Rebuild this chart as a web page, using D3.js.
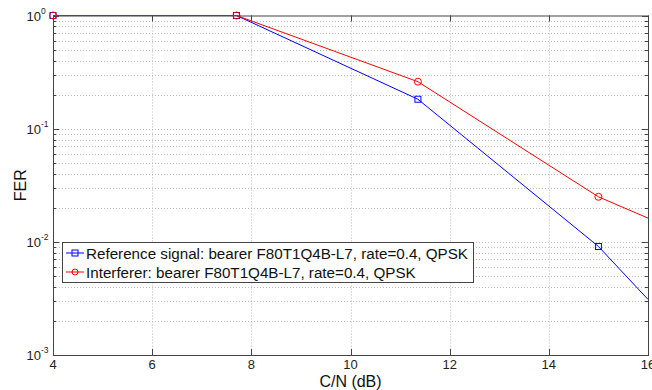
<!DOCTYPE html>
<html>
<head>
<meta charset="utf-8">
<script src="https://cdn.jsdelivr.net/npm/d3@7"></script>
<style>
  body { margin: 0; background: #fff; }
  text { font-family: "Liberation Sans", Arial, sans-serif; }
</style>
</head>
<body>
<div id="chart"></div>
<script>
let width = 652;
let height = 390;
let margin = ({top: 15.5, right: 4, bottom: 35, left: 53});

// C/N (dB)
let cn = [4, 7.7, 11.36, 15, 16];
let refFer = [1, 1, 0.182, 0.0091, 0.0031];
let intFer = [1, 1, 0.26, 0.025, 0.0162];
let xTicks = [4, 6, 8, 10, 12, 14, 16];
let yTicks = [-3, -2, -1, 0];
let labels = ["Reference signal: bearer F80T1Q4B-L7, rate=0.4, QPSK",
              "Interferer: bearer F80T1Q4B-L7, rate=0.4, QPSK"];

let x = d3.scaleLinear().domain([4, 16]).range([margin.left, width - margin.right]);
let y = d3.scaleLog().domain([1e-3, 1]).range([height - margin.bottom, margin.top]);

let svg = d3.select("#chart").append("svg")
    .attr("width", width).attr("height", height);

let x0 = x.range()[0], x1 = x.range()[1];
let y0 = y.range()[0], y1 = y.range()[1];

// minor + major y values
let yGrid = [];
for (let e = -3; e < 0; e++) {
    for (let m = 1; m < 10; m++) yGrid.push(m * Math.pow(10, e));
}
yGrid.push(1);

let grid = svg.append("g")
    .attr("stroke", "#bbb")
    .attr("stroke-width", 1)
    .attr("stroke-dasharray", "1,2");
grid.selectAll(".gx").data(xTicks.slice(1, -1)).join("line")
    .attr("x1", d => Math.round(x(d)) + 0.5).attr("x2", d => Math.round(x(d)) + 0.5)
    .attr("y1", y1).attr("y2", y0);
grid.selectAll(".gy").data(yGrid.slice(1, -1)).join("line")
    .attr("x1", x0).attr("x2", x1)
    .attr("y1", d => Math.round(y(d)) + 0.5).attr("y2", d => Math.round(y(d)) + 0.5);

// ticks on all four sides, pointing inward
let ticks = svg.append("g").attr("stroke", "#444").attr("stroke-width", 1);
xTicks.forEach(d => {
    let px = Math.round(x(d)) + 0.5;
    ticks.append("line").attr("x1", px).attr("x2", px).attr("y1", y0).attr("y2", y0 - 6);
    ticks.append("line").attr("x1", px).attr("x2", px).attr("y1", y1).attr("y2", y1 + 6);
});
yGrid.forEach(d => {
    let py = Math.round(y(d)) + 0.5;
    let major = Math.abs(Math.log10(d) - Math.round(Math.log10(d))) < 1e-9;
    let len = major ? 6 : 3;
    ticks.append("line").attr("x1", x0).attr("x2", x0 + len).attr("y1", py).attr("y2", py);
    ticks.append("line").attr("x1", x1).attr("x2", x1 - len).attr("y1", py).attr("y2", py);
});

// box
svg.append("rect")
    .attr("x", x0 + 0.5).attr("y", y1 + 0.5)
    .attr("width", x1 - x0).attr("height", y0 - y1)
    .attr("fill", "none").attr("stroke", "#444");

// tick labels
svg.append("g").selectAll("text").data(xTicks).join("text")
    .attr("x", d => x(d)).attr("y", y0 + 14)
    .attr("text-anchor", "middle")
    .attr("font-size", 13).attr("fill", "#222")
    .text(d => d);

svg.append("g").selectAll("text").data(yTicks).join("text")
    .attr("x", x0 - 12).attr("y", d => y(Math.pow(10, d)) + 5)
    .attr("text-anchor", "end")
    .attr("font-size", 13).attr("fill", "#222")
    .text("10");
svg.append("g").selectAll("text").data(yTicks).join("text")
    .attr("x", x0 - 12).attr("y", d => y(Math.pow(10, d)) - 2)
    .attr("text-anchor", "start")
    .attr("font-size", 8.5).attr("fill", "#222")
    .text(d => d);

// axis titles
svg.append("text")
    .attr("x", (x0 + x1) / 2).attr("y", height - 3)
    .attr("text-anchor", "middle").attr("font-size", 16).attr("fill", "#111")
    .text("C/N (dB)");
svg.append("text")
    .attr("transform", `translate(26,${(y0 + y1) / 2}) rotate(-90)`)
    .attr("text-anchor", "middle").attr("font-size", 16).attr("fill", "#111")
    .text("FER");

// series
let line = d3.line().x(d => x(d[0])).y(d => y(d[1]));
let series = [
    {name: labels[0], color: "#0000ff", vals: refFer, shape: "square"},
    {name: labels[1], color: "#ff0000", vals: intFer, shape: "circle"}
];

series.forEach(s => {
    let pts = cn.map((c, i) => [c, s.vals[i]]);
    svg.append("path").datum(pts)
        .attr("d", line).attr("fill", "none")
        .attr("stroke", s.color).attr("stroke-width", 1);
    // last point sits on the right border, no marker there
    let marks = svg.append("g").selectAll("g").data(pts.slice(0, -1)).join("g");
    if (s.shape === "square") {
        marks.append("rect")
            .attr("x", d => x(d[0]) - 3).attr("y", d => y(d[1]) - 3)
            .attr("width", 6).attr("height", 6)
            .attr("fill", "none").attr("stroke", s.color);
    } else {
        marks.append("circle")
            .attr("cx", d => x(d[0])).attr("cy", d => y(d[1])).attr("r", 3.5)
            .attr("fill", "none").attr("stroke", s.color);
    }
});

// legend
let lg = svg.append("g").attr("transform", "translate(62,242)");
lg.append("rect").attr("x", 0.5).attr("y", 0.5).attr("width", 411).attr("height", 40)
    .attr("fill", "#fff").attr("stroke", "#444");
series.forEach((s, i) => {
    let cy = 11 + i * 19;
    lg.append("line").attr("x1", 4).attr("x2", 22).attr("y1", cy).attr("y2", cy)
        .attr("stroke", s.color);
    if (s.shape === "square") {
        lg.append("rect").attr("x", 10).attr("y", cy - 3).attr("width", 6).attr("height", 6)
            .attr("fill", "none").attr("stroke", s.color);
    } else {
        lg.append("circle").attr("cx", 13).attr("cy", cy).attr("r", 3)
            .attr("fill", "none").attr("stroke", s.color);
    }
    lg.append("text").attr("x", 24).attr("y", cy + 5.5)
        .attr("font-size", 15.2).attr("fill", "#111")
        .text(s.name);
});
</script>
</body>
</html>
